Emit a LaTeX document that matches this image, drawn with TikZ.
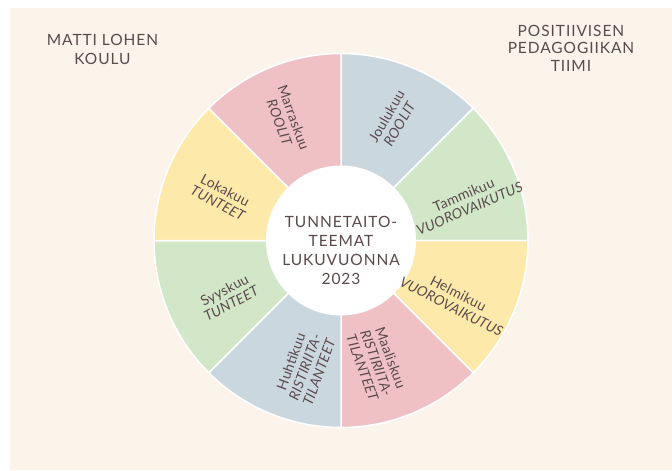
\documentclass[tikz,border=0pt]{standalone}
\usepackage{fontspec}
\setmainfont{Lato}
\usepackage{tikz}
\definecolor{bg}{RGB}{252, 243, 235}
\definecolor{pk}{RGB}{239, 193, 196}
\definecolor{bl}{RGB}{203, 215, 223}
\definecolor{gr}{RGB}{209, 231, 200}
\definecolor{yl}{RGB}{253, 233, 170}
\definecolor{tx}{RGB}{90, 74, 76}

\begin{document}
\begin{tikzpicture}[x=1pt, y=1pt,
  seg/.style={draw=white, line width=1.5pt},
  lbl/.style={text=tx, align=center, inner sep=0pt, font=\fontsize{14}{15}\selectfont\addfontfeatures{LetterSpace=2}},
  ttl/.style={text=tx, align=center, inner sep=0pt, font=\fontsize{15.5}{19}\selectfont\addfontfeatures{LetterSpace=6}}]
\useasboundingbox (0pt, 0pt) rectangle (672pt, -471pt);
\fill [white] (0pt, 0pt) rectangle (672pt, -471pt);
\fill [bg] (10pt, -8pt) rectangle (672pt, -470pt);
\coordinate (c) at (341pt, -240.5pt);
\filldraw [seg, fill=bl] (c) -- ++(90:187pt) arc (90:45:187pt) -- cycle;
\filldraw [seg, fill=gr] (c) -- ++(45:187pt) arc (45:0:187pt) -- cycle;
\filldraw [seg, fill=yl] (c) -- ++(0:187pt) arc (0:-45:187pt) -- cycle;
\filldraw [seg, fill=pk] (c) -- ++(-45:187pt) arc (-45:-90:187pt) -- cycle;
\filldraw [seg, fill=bl] (c) -- ++(-90:187pt) arc (-90:-135:187pt) -- cycle;
\filldraw [seg, fill=gr] (c) -- ++(-135:187pt) arc (-135:-180:187pt) -- cycle;
\filldraw [seg, fill=yl] (c) -- ++(180:187pt) arc (180:135:187pt) -- cycle;
\filldraw [seg, fill=pk] (c) -- ++(135:187pt) arc (135:90:187pt) -- cycle;
\node (hub) [circle, fill=white, minimum size=150pt, inner sep=0pt] at (c) {};
\node (theme) [ttl] at (341pt, -250pt) {TUNNETAITO-\\TEEMAT\\LUKUVUONNA\\2023};
\node (school) [ttl] at (102.5pt, -49.5pt) {MATTI LOHEN\\KOULU};
\node (team) [ttl, font=\fontsize{15.5}{17.5}\selectfont\addfontfeatures{LetterSpace=6}] at (571pt, -48pt) {POSITIIVISEN\\PEDAGOGIIKAN\\TIIMI};
\node (nov) [lbl, rotate=-70] at (286.7pt, -120pt) {Marraskuu\\\textit{ROOLIT}};
\node (dec) [lbl, rotate=60] at (393pt, -120pt) {Joulukuu\\\textit{ROOLIT}};
\node (jan) [lbl, rotate=23] at (466.7pt, -201.7pt) {Tammikuu\\\textit{VUOROVAIKUTUS}};
\node (feb) [lbl, rotate=-27] at (455pt, -300pt) {Helmikuu\\\textit{VUOROVAIKUTUS}};
\node (mar) [lbl, rotate=-70] at (376.7pt, -363pt) {Maaliskuu\\\textit{RISTIRIITA-}\\\textit{TILANTEET}};
\node (apr) [lbl, rotate=70] at (305pt, -366.7pt) {Huhtikuu\\\textit{RISTIRIITA-}\\\textit{TILANTEET}};
\node (sep) [lbl, rotate=28] at (228pt, -296.7pt) {Syyskuu\\\textit{TUNTEET}};
\node (oct) [lbl, rotate=-28] at (221.7pt, -196.7pt) {Lokakuu\\\textit{TUNTEET}};
\end{tikzpicture}
\end{document}
